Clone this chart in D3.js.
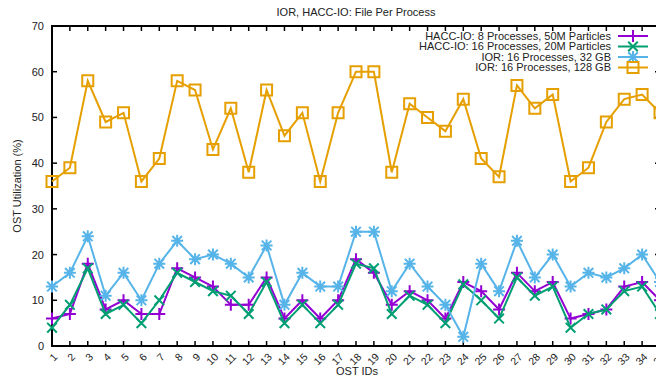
<!DOCTYPE html>
<html><head><meta charset="utf-8">
<script src="https://cdn.jsdelivr.net/npm/d3@7"></script>
<style>body{margin:0;background:#fff;overflow:hidden}svg{display:block;font-family:"Liberation Sans",Arial,sans-serif}</style>
</head><body><svg id="c" width="656" height="377"></svg>
<script>
const ostIds = d3.range(1, 36);
const seriesNames = ["HACC-IO: 8 Processes, 50M Particles","HACC-IO: 16 Processes, 20M Particles","IOR: 16 Processes, 32 GB","IOR: 16 Processes, 128 GB"];
const hacc8 = [6,7,18,8,10,7,7,17,15,13,9,9,15,6,10,6,10,19,16,9,12,10,6,14,12,8,16,12,14,6,7,8,13,14,10];
const hacc16 = [4,9,17,7,9,5,10,16,14,12,11,7,14,5,9,5,9,18,17,7,11,9,5,13.5,10,6,15,11,13,4,7,8,12,13,7];
const ior32 = [13,16,24,11,16,10,18,23,19,20,18,15,22,9,16,13,13,25,25,12,18,13,9,2,18,12,23,15,20,13,16,15,17,20,14];
const ior128 = [36,39,58,49,51,36,41,58,56,43,52,38,56,46,51,36,51,60,60,38,53,50,47,54,41,37,57,52,55,36,39,49,54,55,51];
const yTicks = [0,10,20,30,40,50,60,70];
const colors = ["#9400d3","#009e73","#56b4e9","#e69f00"];
const markers = ["plus","cross","star","square"];
const data = [hacc8, hacc16, ior32, ior128];

const svg = d3.select("#c");
const L = 52, R = 660, T = 26, B = 346;
const x = d3.scaleLinear().domain([1, 35]).range([L, R]);
const y = d3.scaleLinear().domain([0, 70]).range([B, T]);

function drawMarker(g, type, cx, cy, color) {
  const s = 6;
  const p = d3.path();
  if (type === "plus" || type === "star") { p.moveTo(cx - s, cy); p.lineTo(cx + s, cy); p.moveTo(cx, cy - s); p.lineTo(cx, cy + s); }
  if (type === "cross" || type === "star") { const d = s * 0.8; p.moveTo(cx - d, cy - d); p.lineTo(cx + d, cy + d); p.moveTo(cx - d, cy + d); p.lineTo(cx + d, cy - d); }
  if (type === "square") { p.rect(cx - 5.5, cy - 5.5, 11, 11); }
  g.append("path").attr("d", p.toString()).attr("fill", "none").attr("stroke", color).attr("stroke-width", 2);
}

// title
svg.append("text").attr("x", 356).attr("y", 16).attr("text-anchor", "middle").attr("font-size", 11).attr("fill", "#222").text("IOR, HACC-IO: File Per Process");

// y axis ticks & labels
const yAxis = d3.axisLeft(y).tickValues(yTicks).tickSize(0).tickPadding(8);
const gy = svg.append("g").attr("transform", `translate(${L},0)`).call(yAxis);
gy.select(".domain").remove();
gy.selectAll("text").attr("font-size", 11).attr("fill", "#222").attr("font-family", "Liberation Sans, Arial, sans-serif");
yTicks.forEach(v => {
  svg.append("line").attr("x1", L).attr("x2", L + 5).attr("y1", y(v)).attr("y2", y(v)).attr("stroke", "#000").attr("stroke-width", 1.5);
  svg.append("line").attr("x1", R).attr("x2", R - 5).attr("y1", y(v)).attr("y2", y(v)).attr("stroke", "#000").attr("stroke-width", 1.5);
});
// x ticks
const xAxis = d3.axisBottom(x).tickValues(ostIds).tickSize(0).tickFormat(d3.format("d"));
const gx = svg.append("g").attr("transform", `translate(0,${B})`).call(xAxis);
gx.select(".domain").remove();
gx.selectAll("text").attr("font-size", 10.5).attr("fill", "#222").attr("text-anchor", "end")
  .attr("font-family", "Liberation Sans, Arial, sans-serif")
  .attr("x", 0).attr("y", 0).attr("dy", "0.35em")
  .attr("transform", "translate(3,9) rotate(-45)");
ostIds.forEach(v => {
  svg.append("line").attr("x1", x(v)).attr("x2", x(v)).attr("y1", B).attr("y2", B - 5).attr("stroke", "#000").attr("stroke-width", 1.5);
  svg.append("line").attr("x1", x(v)).attr("x2", x(v)).attr("y1", T).attr("y2", T + 5).attr("stroke", "#000").attr("stroke-width", 1.5);
});

// frame
svg.append("rect").attr("x", L).attr("y", T).attr("width", R - L).attr("height", B - T).attr("fill", "none").attr("stroke", "#000").attr("stroke-width", 2);

// axis labels
svg.append("text").attr("x", 357).attr("y", 375).attr("text-anchor", "middle").attr("font-size", 11).attr("fill", "#222").text("OST IDs");
svg.append("text").attr("transform", "translate(21,186) rotate(-90)").attr("text-anchor", "middle").attr("font-size", 11).attr("fill", "#222").text("OST Utilization (%)");

// series
const line = d3.line().x((d, i) => x(ostIds[i])).y(d => y(d));
const plot = svg.append("g");
data.forEach((vals, k) => {
  plot.append("path").datum(vals).attr("d", line).attr("fill", "none").attr("stroke", colors[k]).attr("stroke-width", 2);
  vals.forEach((v, i) => drawMarker(plot, markers[k], x(ostIds[i]), y(v), colors[k]));
});

// legend
const lg = svg.append("g");
const rowsY = [36, 46.5, 57, 67.5];
seriesNames.forEach((n, k) => {
  lg.append("text").attr("x", 611).attr("y", rowsY[k]).attr("dy", "0.35em").attr("text-anchor", "end").attr("font-size", 11).attr("fill", "#222").text(n);
  lg.append("line").attr("x1", 618).attr("x2", 648).attr("y1", rowsY[k]).attr("y2", rowsY[k]).attr("stroke", colors[k]).attr("stroke-width", 2);
  drawMarker(lg, markers[k], 633, rowsY[k], colors[k]);
});
</script></body></html>
